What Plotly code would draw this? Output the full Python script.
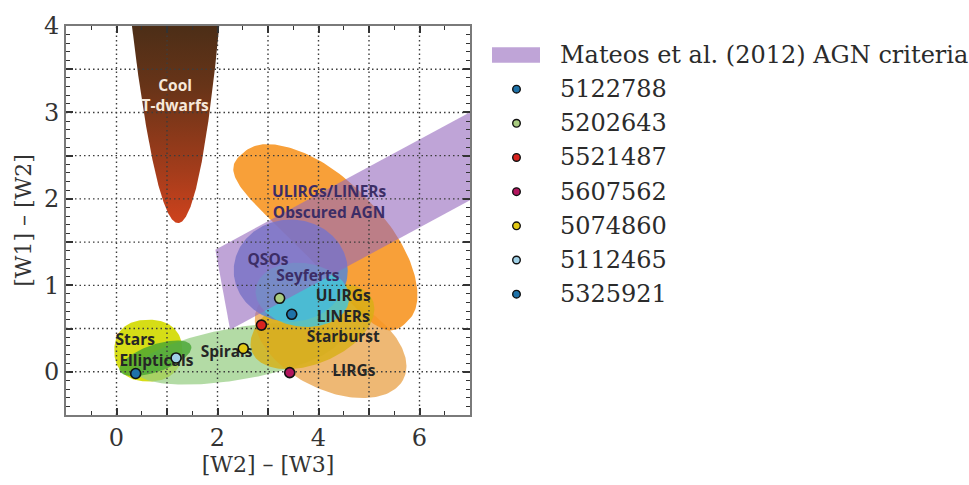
import numpy as np
import plotly.graph_objects as go

# ---------------------------------------------------------------- data
IDS = ["5122788", "5202643", "5521487", "5607562", "5074860", "5112465", "5325921"]
W2_W3 = [3.47, 3.23, 2.87, 3.43, 2.51, 1.18, 0.38]
W1_W2 = [0.665, 0.85, 0.54, -0.01, 0.27, 0.16, -0.02]
POINT_COLORS = ["#1f72a8", "#a9cc80", "#d8231f", "#b3155e", "#e2c914", "#9fd0e6", "#1f72a8"]

# Mateos et al. (2012) wedge: y = s*x + b_hi, y = s*x + b_lo, y = m*x + c
MATEOS_SLOPE = 0.315
MATEOS_UPPER = 0.796
MATEOS_LOWER = -0.222
MATEOS_EDGE_SLOPE = -3.172
MATEOS_EDGE_ICPT = 7.624

# Wright et al. (2010) source-class regions:
# centre (data), semi-axes (px), tilt (deg), squareness exponent, bend (px)
REGION_NAMES = ["Stars", "Spirals", "Ellipticals", "LIRGs",
                "ULIRGs/LINERs Obscured AGN", "Starburst", "QSOs/Seyferts", "ULIRGs/LINERs"]
REGION_CX = [0.63, 2.41, 0.77, 4.24, 4.10, 3.88, 3.45, 3.68]
REGION_CY = [0.245, 0.21, 0.156, 0.335, 1.54, 0.525, 1.17, 0.89]
REGION_A = [34, 104, 38, 82, 120, 66, 57, 47]
REGION_B = [32, 27, 14, 48, 42, 38, 53, 33]
REGION_ANG = [0, 10, 20, -28, -47, 25, 0, -8]
REGION_POW = [2.3, 2, 2, 2, 2.6, 2, 2, 2]
REGION_BEND = [0, 0, 0, 0, 18, 0, 0, 0]
REGION_FILL = ["rgb(214,221,22)", "rgba(150,205,130,0.72)", "rgba(70,165,50,0.8)",
               "rgba(232,160,70,0.75)", "rgba(247,150,35,0.9)",
               "rgba(215,175,20,0.8)", "rgba(85,135,215,0.85)", "rgba(70,195,215,0.85)"]

# Cool T-dwarf locus: x = xc(y) +/- k*sqrt(y - y0)
TDWARF_Y0 = 1.72
TDWARF_XC = 1.22
TDWARF_TILT = -0.022
TDWARF_K = 0.575

LABELS = ["Cool<br>T-dwarfs", "ULIRGs/LINERs<br>Obscured AGN", "QSOs", "Seyferts",
          "ULIRGs<br>LINERs<br>Starburst", "LIRGs", "Spirals", "Stars", "Ellipticals"]
LABEL_X = [1.16, 4.21, 3.0, 3.79, 4.49, 4.7, 2.18, 0.37, 0.79]
LABEL_Y = [3.18, 1.945, 1.28, 1.09, 0.625, 0.0, 0.22, 0.35, 0.11]
LABEL_COLORS = ["#f6e8da", "#3c2d66", "#3c2d66", "#3c2d66",
                "#262626", "#262626", "#262626", "#262626", "#262626"]

X_RANGE = [-1, 7]
Y_RANGE = [-0.5, 4]

# ---------------------------------------------------------------- layout geometry
W, H = 969, 485
ML, MR, MT, MB = 66, 499, 14, 68
PW, PH = W - ML - MR, H - MT - MB
SX = PW / (X_RANGE[1] - X_RANGE[0])
SY = PH / (Y_RANGE[1] - Y_RANGE[0])


def region_outline(cx, cy, a, b, ang, p=2.0, bend=0.0, n=200):
    """Rotated (super)ellipse, optionally bowed sideways, sized in screen pixels."""
    t = np.linspace(0, 2 * np.pi, n)
    c, s = np.cos(t), np.sin(t)
    u = a * np.sign(c) * np.abs(c) ** (2 / p)
    v = b * np.sign(s) * np.abs(s) ** (2 / p) + bend * (1 - (u / a) ** 2)
    r = np.deg2rad(ang)
    x = cx + (u * np.cos(r) - v * np.sin(r)) / SX
    y = cy + (u * np.sin(r) + v * np.cos(r)) / SY
    return x, y


fig = go.Figure()

# T-dwarf locus with a vertical colour gradient
ty = TDWARF_Y0 + np.linspace(0, 1, 200) ** 2 * (4.4 - TDWARF_Y0)
txc = TDWARF_XC + TDWARF_TILT * (ty - TDWARF_Y0)
tw = TDWARF_K * np.sqrt(ty - TDWARF_Y0)
fig.add_trace(go.Scatter(
    x=np.concatenate([txc - tw, (txc + tw)[::-1]]),
    y=np.concatenate([ty, ty[::-1]]),
    mode="lines", line=dict(width=0), fill="toself",
    fillgradient=dict(type="vertical", start=TDWARF_Y0, stop=4.0,
                      colorscale=[[0, "#d4431d"], [0.3, "#a23c1b"], [0.7, "#683418"], [1, "#4c2e17"]]),
    hoverinfo="skip", showlegend=False))

# source-class regions
for i, name in enumerate(REGION_NAMES):
    ex, ey = region_outline(REGION_CX[i], REGION_CY[i], REGION_A[i], REGION_B[i],
                            REGION_ANG[i], REGION_POW[i], REGION_BEND[i])
    fig.add_trace(go.Scatter(x=ex, y=ey, mode="lines", line=dict(width=0),
                             fill="toself", fillcolor=REGION_FILL[i], name=name,
                             hoverinfo="name", showlegend=False))

# Mateos et al. (2012) AGN wedge
x_top = (MATEOS_EDGE_ICPT - MATEOS_UPPER) / (MATEOS_SLOPE - MATEOS_EDGE_SLOPE)
x_bot = (MATEOS_EDGE_ICPT - MATEOS_LOWER) / (MATEOS_SLOPE - MATEOS_EDGE_SLOPE)
x_end = X_RANGE[1] + 0.5
wx = [x_top, x_end, x_end, x_bot, x_top]
wy = [MATEOS_SLOPE * x_top + MATEOS_UPPER, MATEOS_SLOPE * x_end + MATEOS_UPPER,
      MATEOS_SLOPE * x_end + MATEOS_LOWER, MATEOS_SLOPE * x_bot + MATEOS_LOWER,
      MATEOS_SLOPE * x_top + MATEOS_UPPER]
WEDGE_FILL = "rgba(148,103,189,0.6)"
fig.add_trace(go.Scatter(x=wx, y=wy, mode="lines", line=dict(width=0), fill="toself",
                         fillcolor=WEDGE_FILL, name="Mateos et al. (2012) AGN criteria",
                         showlegend=False))

# dotted grid drawn over the regions
gx, gy = [], []
for v in np.arange(0, 7, 1.0):
    gx += [v, v, None]
    gy += [Y_RANGE[0], Y_RANGE[1], None]
for v in np.arange(0, 4, 0.5):
    gx += [X_RANGE[0], X_RANGE[1], None]
    gy += [v, v, None]
fig.add_trace(go.Scatter(x=gx, y=gy, mode="lines",
                         line=dict(color="#3c3c3c", width=1.4, dash="1.5px,3px"),
                         hoverinfo="skip", showlegend=False))

# region labels
fig.add_trace(go.Scatter(x=LABEL_X, y=LABEL_Y, text=LABELS, mode="text",
                         textfont=dict(family="Open Sans", size=15.5, color=LABEL_COLORS,
                                       weight=700),
                         hoverinfo="skip", showlegend=False))

# sources
for i, sid in enumerate(IDS):
    fig.add_trace(go.Scatter(x=[W2_W3[i]], y=[W1_W2[i]], mode="markers", name=sid,
                             marker=dict(size=10, color=POINT_COLORS[i],
                                         line=dict(color="#111111", width=1.6)),
                             showlegend=False))

# legend on the right
LEG_X0 = 492
LEG_TEXT_X = 558
LEG_ROW0 = 44
LEG_ROW_DY = 35.4


def px_to_paper(px, py):
    return (px - ML) / PW, (H - MB - py) / PH


shapes = []
annotations = []
p0 = px_to_paper(LEG_X0, 36)
p1 = px_to_paper(LEG_X0 + 48, 52)
shapes.append(dict(type="rect", xref="paper", yref="paper", x0=p0[0], x1=p1[0],
                   y0=p1[1], y1=p0[1], fillcolor=WEDGE_FILL, line=dict(width=0)))
legend_texts = ["Mateos et al. (2012) AGN criteria"] + IDS
for k, txt in enumerate(legend_texts):
    py = LEG_ROW0 + k * LEG_ROW_DY
    tx, ty_ = px_to_paper(LEG_TEXT_X, py)
    annotations.append(dict(text=txt, xref="paper", yref="paper", x=tx, y=ty_,
                            xanchor="left", yanchor="middle", showarrow=False,
                            font=dict(family="DejaVu Serif", size=24, color="#2b2b2b")))
    if k > 0:
        mx, my = px_to_paper(516.5, py)
        shapes.append(dict(type="circle", xref="paper", yref="paper",
                           xsizemode="pixel", ysizemode="pixel", xanchor=mx, yanchor=my,
                           x0=-3.8, x1=3.8, y0=-3.8, y1=3.8,
                           fillcolor=POINT_COLORS[k - 1],
                           line=dict(color="#111111", width=1.4)))

axis_common = dict(showgrid=False, zeroline=False, showline=True, linecolor="#7a7a7a",
                   linewidth=2, mirror="allticks", ticks="inside", ticklen=7,
                   tickwidth=1.5, tickcolor="#333333", layer="above traces",
                   tickfont=dict(family="DejaVu Serif", size=24, color="#333333"),
                   title_font=dict(family="DejaVu Serif", size=22, color="#333333"))

fig.update_layout(
    width=W, height=H, margin=dict(l=ML, r=MR, t=MT, b=MB),
    paper_bgcolor="white", plot_bgcolor="white",
    shapes=shapes, annotations=annotations, showlegend=False,
    xaxis=dict(range=X_RANGE, tickmode="array",
               tickvals=list(range(-1, 8)),
               ticktext=["", "0", "", "2", "", "4", "", "6", ""],
               minor=dict(dtick=0.5, tick0=0, ticks="inside", ticklen=4,
                          tickwidth=1.3, tickcolor="#333333"),
               title=dict(text="[W2] – [W3]", standoff=6), **axis_common),
    yaxis=dict(range=Y_RANGE, tickmode="array",
               tickvals=[v / 2 for v in range(-1, 9)],
               ticktext=["", "0", "", "1", "", "2", "", "3", "", "4"],
               minor=dict(dtick=0.1, tick0=0, ticks="inside", ticklen=4,
                          tickwidth=1.3, tickcolor="#333333"),
               title=dict(text="[W1] – [W2]", standoff=6), **axis_common),
)

fig.write_html("out.html")
